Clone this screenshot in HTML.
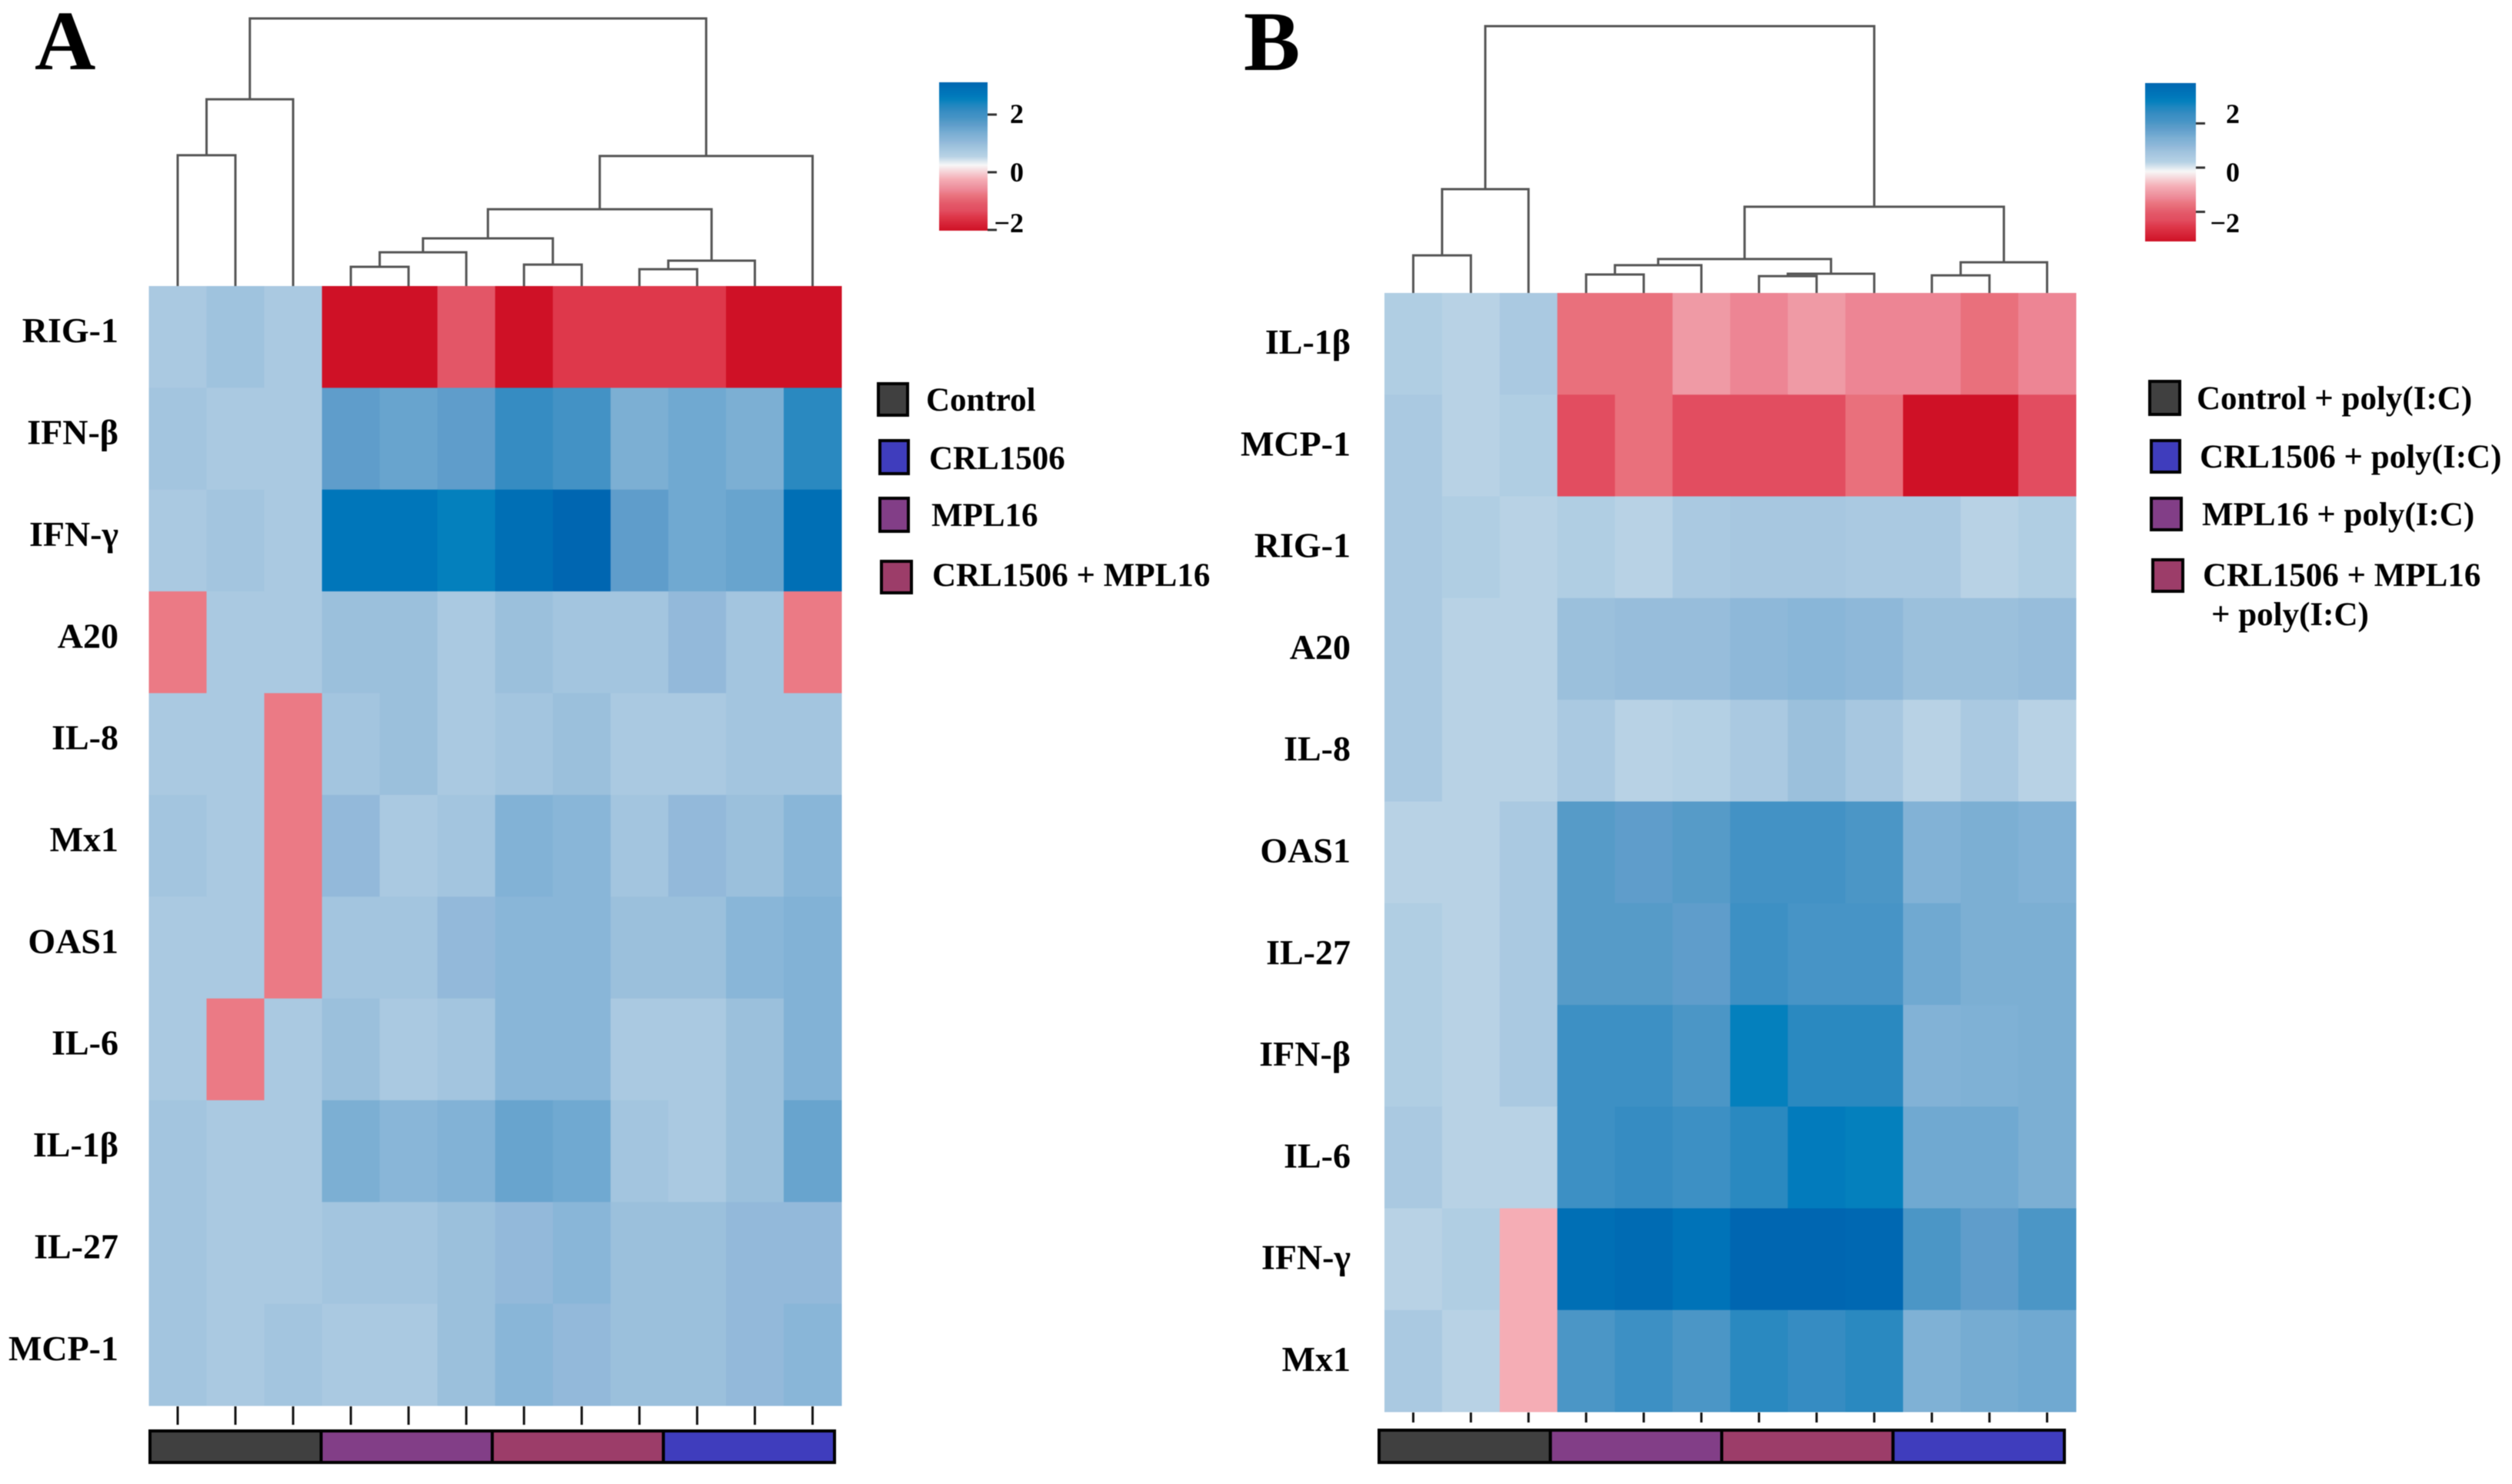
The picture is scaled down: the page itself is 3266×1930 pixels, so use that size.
<!DOCTYPE html>
<html lang="en">
<head>
<meta charset="utf-8">
<title>Gene expression heatmaps</title>
<style>
html,body{margin:0;padding:0;background:#fff;}
svg{display:block;filter:blur(0.6px);}
text{font-family:"Liberation Serif",serif;font-weight:bold;fill:#000;}
</style>
</head>
<body>
<svg id="figure" xmlns="http://www.w3.org/2000/svg" width="3266" height="1930" viewBox="0 0 3266 1930">
  <rect x="0" y="0" width="3266" height="1930" fill="#ffffff"/>
  <defs>
    <linearGradient id="colorbar-gradient" x1="0" y1="0" x2="0" y2="1"></linearGradient>
  </defs>

  <text x="45" y="90" font-size="110">A</text>
  <text x="1617" y="91" font-size="110">B</text>

  <g id="panel-a"></g>
  <g id="panel-b"></g>

  <g>
    <g>
      <rect x="1142" y="499" width="38" height="41" fill="#404040" stroke="#000" stroke-width="4"/>
      <text x="1204" y="534" font-size="43">Control</text>
    </g>
    <g>
      <rect x="1144" y="573" width="37" height="43" fill="#3f3dbd" stroke="#000" stroke-width="4"/>
      <text x="1208" y="610" font-size="43">CRL1506</text>
    </g>
    <g>
      <rect x="1144" y="648" width="37" height="43" fill="#823e87" stroke="#000" stroke-width="4"/>
      <text x="1211" y="684" font-size="43">MPL16</text>
    </g>
    <g>
      <rect x="1146" y="730" width="39" height="41" fill="#9c3d69" stroke="#000" stroke-width="4"/>
      <text x="1212" y="762" font-size="43">CRL1506 + MPL16</text>
    </g>
  </g>

  <g>
    <g>
      <rect x="2795" y="496" width="39" height="43" fill="#404040" stroke="#000" stroke-width="4"/>
      <text x="2856" y="532" font-size="43">Control + poly(I:C)</text>
    </g>
    <g>
      <rect x="2797" y="573" width="37" height="41" fill="#3f3dbd" stroke="#000" stroke-width="4"/>
      <text x="2860" y="608" font-size="43">CRL1506 + poly(I:C)</text>
    </g>
    <g>
      <rect x="2797" y="648" width="39" height="41" fill="#823e87" stroke="#000" stroke-width="4"/>
      <text x="2863" y="683" font-size="43">MPL16 + poly(I:C)</text>
    </g>
    <g>
      <rect x="2799" y="728" width="39" height="41" fill="#9c3d69" stroke="#000" stroke-width="4"/>
      <text x="2864" y="762" font-size="43">CRL1506 + MPL16</text>
      <text x="2875" y="813" font-size="43">+ poly(I:C)</text>
    </g>
  </g>
</svg>

<script>
// ---------- Data ----------
const rowLabelsA = ['RIG-1','IFN-β','IFN-γ','A20','IL-8','Mx1','OAS1','IL-6','IL-1β','IL-27','MCP-1'];
const valuesA = [
  [0.5,0.65,0.5,-2.3,-2.3,-1.4,-2.3,-1.8,-1.8,-1.8,-2.3,-2.3],
  [0.6,0.5,0.5,1.4,1.3,1.4,1.9,1.7,1.1,1.2,1.1,2.0],
  [0.5,0.6,0.5,2.5,2.5,2.3,2.7,2.9,1.4,1.2,1.3,2.7],
  [-1.0,0.5,0.5,0.7,0.7,0.5,0.7,0.6,0.6,0.8,0.6,-1.0],
  [0.5,0.5,-1.0,0.6,0.7,0.5,0.6,0.7,0.5,0.5,0.6,0.6],
  [0.6,0.5,-1.0,0.8,0.5,0.6,1.0,0.9,0.6,0.8,0.7,0.9],
  [0.5,0.5,-1.0,0.6,0.6,0.8,0.9,0.9,0.7,0.7,0.9,1.0],
  [0.5,-1.0,0.5,0.7,0.5,0.6,0.9,0.9,0.5,0.5,0.7,1.0],
  [0.6,0.5,0.5,1.1,0.9,1.0,1.3,1.2,0.6,0.5,0.7,1.3],
  [0.6,0.5,0.5,0.6,0.6,0.7,0.8,0.9,0.7,0.7,0.8,0.8],
  [0.6,0.5,0.6,0.5,0.5,0.7,0.9,0.8,0.7,0.7,0.8,0.9]
];
const rowLabelsB = ['IL-1β','MCP-1','RIG-1','A20','IL-8','OAS1','IL-27','IFN-β','IL-6','IFN-γ','Mx1'];
const valuesB = [
  [0.4,0.3,0.5,-1.1,-1.1,-0.7,-0.9,-0.7,-0.9,-0.9,-1.1,-0.9],
  [0.5,0.3,0.4,-1.6,-1.1,-1.6,-1.6,-1.6,-1.1,-2.3,-2.3,-1.6],
  [0.5,0.4,0.3,0.4,0.3,0.5,0.55,0.55,0.5,0.5,0.3,0.4],
  [0.5,0.3,0.3,0.7,0.75,0.75,0.85,0.9,0.85,0.7,0.7,0.75],
  [0.5,0.3,0.3,0.5,0.3,0.35,0.5,0.7,0.55,0.3,0.5,0.3],
  [0.3,0.3,0.5,1.5,1.4,1.5,1.7,1.7,1.6,1.0,1.1,1.0],
  [0.4,0.3,0.5,1.5,1.5,1.4,1.8,1.65,1.65,1.2,1.1,1.1],
  [0.4,0.3,0.5,1.8,1.8,1.6,2.3,2.0,2.0,1.0,1.05,1.1],
  [0.5,0.3,0.3,1.8,1.9,1.8,2.0,2.4,2.3,1.2,1.2,1.1],
  [0.3,0.4,-0.5,2.7,2.8,2.6,2.9,2.9,2.85,1.6,1.4,1.6],
  [0.5,0.3,-0.5,1.6,1.8,1.6,2.0,1.9,2.0,1.05,1.15,1.2]
];
// Dendrogram merges: [childA, childB, height]. Negative child = column (1-based), positive = earlier merge (1-based).
const mergesA = [
  [-1,-2,48.9],[1,-3,69.8],[-4,-5,7.2],[3,-6,12.6],[-7,-8,8.0],[4,5,17.8],
  [-9,-10,6.3],[7,-11,9.5],[6,8,28.7],[9,-12,48.6],[2,10,100]
];
const mergesB = [
  [-1,-2,14.1],[1,-3,38.9],[-4,-5,6.9],[3,-6,10.4],[-7,-8,6.3],[5,-9,7.2],
  [4,6,12.7],[-10,-11,6.6],[8,-12,11.5],[7,9,32.3],[2,10,100]
];
const groupNames = ['control','mpl16','crl1506-mpl16','crl1506'];
const groupColors = ['#404040','#823e87','#9c3d69','#3f3dbd'];
const colorbarTicks = [2,0,-2];
const colorValues = [-2.3,-1.8,-1.6,-1.4,-1.1,-1.0,-0.9,-0.7,-0.5,0,0.3,0.4,0.5,0.6,0.7,0.8,0.9,1.0,1.1,1.2,1.3,1.4,1.5,1.6,1.7,1.8,1.9,2.0,2.1,2.3,2.5,2.7,2.9];
const colorStops = ['#cf1126','#de384b','#e24d60','#e35667','#e9707c','#eb7a85','#ed8594','#ef9aa5','#f5adb5','#f7f7f7','#b8d2e5','#b0cee3','#aac9e1','#a3c5df','#9bc0dc','#93b9da','#89b6d8','#82b2d6','#7cafd3','#70a9d1','#68a4ce','#5f9dcb','#569bc8','#4b96c6','#4392c5','#3d90c4','#368cc2','#2a89c0','#2087c0','#0480bd','#0076ba','#006fb5','#0066b1'];

// ---------- Helpers ----------
const NS = 'http://www.w3.org/2000/svg';
function hexToRgb(h){return [parseInt(h.slice(1,3),16),parseInt(h.slice(3,5),16),parseInt(h.slice(5,7),16)];}
function colorFor(v){
  const n = colorValues.length;
  if (v <= colorValues[0]) return colorStops[0];
  if (v >= colorValues[n-1]) return colorStops[n-1];
  for (let i = 1; i < n; i++) {
    if (v <= colorValues[i]) {
      const t = (v - colorValues[i-1]) / (colorValues[i] - colorValues[i-1]);
      const a = hexToRgb(colorStops[i-1]), b = hexToRgb(colorStops[i]);
      return 'rgb(' + a.map((c,k) => Math.round(c + (b[k]-c)*t)).join(',') + ')';
    }
  }
}
function line(parent,x1,y1,x2,y2,stroke,w){
  const el = document.createElementNS(NS,'line');
  el.setAttribute('x1',x1);el.setAttribute('y1',y1);el.setAttribute('x2',x2);el.setAttribute('y2',y2);
  el.setAttribute('stroke',stroke);el.setAttribute('stroke-width',w);
  parent.appendChild(el);
  return el;
}

// Colorbar gradient built from the colormap
const gradient = document.getElementById('colorbar-gradient');
const cbMax = colorValues[colorValues.length-1], cbMin = colorValues[0];
for (let i = colorValues.length-1; i >= 0; i--) {
  const s = document.createElementNS(NS,'stop');
  s.setAttribute('offset', (cbMax-colorValues[i])/(cbMax-cbMin));
  s.setAttribute('stop-color', colorStops[i]);
  gradient.appendChild(s);
}

function drawPanel(root, rowLabels, values, merges, cfg){
  const nRows = values.length, nCols = values[0].length;
  const cellW = (cfg.x1-cfg.x0)/nCols, cellH = (cfg.y1-cfg.y0)/nRows;
  const xCol = c => cfg.x0 + cellW*(c+0.5);
  const yHeight = h => cfg.y0 - (cfg.y0-cfg.dendroTop)*h/100;

  // Heatmap cells
  values.forEach((row,r) => row.forEach((v,c) => {
    const el = document.createElementNS(NS,'rect');
    
    
    el.setAttribute('x', cfg.x0 + c*cellW);
    el.setAttribute('y', cfg.y0 + r*cellH);
    el.setAttribute('width', cellW+0.5);
    el.setAttribute('height', cellH+0.5);
    el.setAttribute('fill', colorFor(v));
    root.appendChild(el);
  }));

  // Row labels
  rowLabels.forEach((label,r) => {
    const el = document.createElementNS(NS,'text');
    
    
    el.setAttribute('x', cfg.labelX);
    el.setAttribute('y', cfg.y0 + (r+0.5)*cellH + cfg.labelDy);
    el.setAttribute('text-anchor', 'end');
    el.setAttribute('font-size', '46');
    el.textContent = label;
    root.appendChild(el);
  });

  // Dendrogram
  const nodes = [];
  const childPos = id => id < 0 ? {x:xCol(-id-1), y:cfg.y0} : nodes[id-1];
  merges.forEach(m => {
    const a = childPos(m[0]), b = childPos(m[1]), y = yHeight(m[2]);
    const el = document.createElementNS(NS,'path');
    
    
    el.setAttribute('d', 'M'+a.x+' '+a.y+'V'+y+'H'+b.x+'V'+b.y);
    el.setAttribute('fill', 'none');
    el.setAttribute('stroke', '#555555');
    el.setAttribute('stroke-width', '3');
    root.appendChild(el);
    nodes.push({x:(a.x+b.x)/2, y:y});
  });

  // Column ticks
  for (let c = 0; c < nCols; c++) {
    const el = line(root, xCol(c), cfg.tickTop, xCol(c), cfg.tickBottom, '#111', 3);
    
    
  }

  // Annotation bar
  groupColors.forEach((color,g) => {
    const el = document.createElementNS(NS,'rect');
    
    
    el.setAttribute('x', cfg.barX + g*cfg.barW);
    el.setAttribute('y', cfg.barY);
    el.setAttribute('width', cfg.barW);
    el.setAttribute('height', cfg.barH);
    el.setAttribute('fill', color);
    el.setAttribute('stroke', '#000');
    el.setAttribute('stroke-width', '4');
    root.appendChild(el);
  });

  // Colorbar
  const bar = document.createElementNS(NS,'rect');
  
  
  bar.setAttribute('x', cfg.cbX);
  bar.setAttribute('y', cfg.cbTop);
  bar.setAttribute('width', cfg.cbW);
  bar.setAttribute('height', cfg.cbBottom-cfg.cbTop);
  bar.setAttribute('fill', 'url(#colorbar-gradient)');
  root.appendChild(bar);
  const tickY = v => cfg.cbZero - cfg.cbUnit*v;
  const labelY = v => v >= 0 ? 236 - 38*v : 236 - 33*v;
  colorbarTicks.forEach(v => {
    const t = line(root, cfg.cbX+cfg.cbW, tickY(v), cfg.cbX+cfg.cbW+12, tickY(v), '#333', 3);
    
    
    const el = document.createElementNS(NS,'text');
    
    
    el.setAttribute('x', cfg.cbLabelX);
    el.setAttribute('y', labelY(v));
    el.setAttribute('text-anchor', 'end');
    el.setAttribute('font-size', '36');
    el.textContent = String(v).replace('-','\u2212');
    root.appendChild(el);
  });
}

drawPanel(document.getElementById('panel-a'), rowLabelsA, valuesA, mergesA, {
  x0:193.5, x1:1094, y0:372, y1:1828, dendroTop:24, labelX:154, labelDy:7,
  tickTop:1829, tickBottom:1853, barX:195, barW:222.5, barY:1861, barH:41,
  cbX:1221, cbW:63, cbTop:107, cbBottom:300, cbZero:224, cbUnit:37.5, cbLabelX:1331
});
drawPanel(document.getElementById('panel-b'), rowLabelsB, valuesB, mergesB, {
  x0:1800, x1:2699, y0:381, y1:1836, dendroTop:34, labelX:1756, labelDy:13,
  tickTop:1837, tickBottom:1850, barX:1793, barW:222.75, barY:1860, barH:42,
  cbX:2789, cbW:66, cbTop:108, cbBottom:314, cbZero:218, cbUnit:28.75, cbLabelX:2912
});
</script>
</body>
</html>
